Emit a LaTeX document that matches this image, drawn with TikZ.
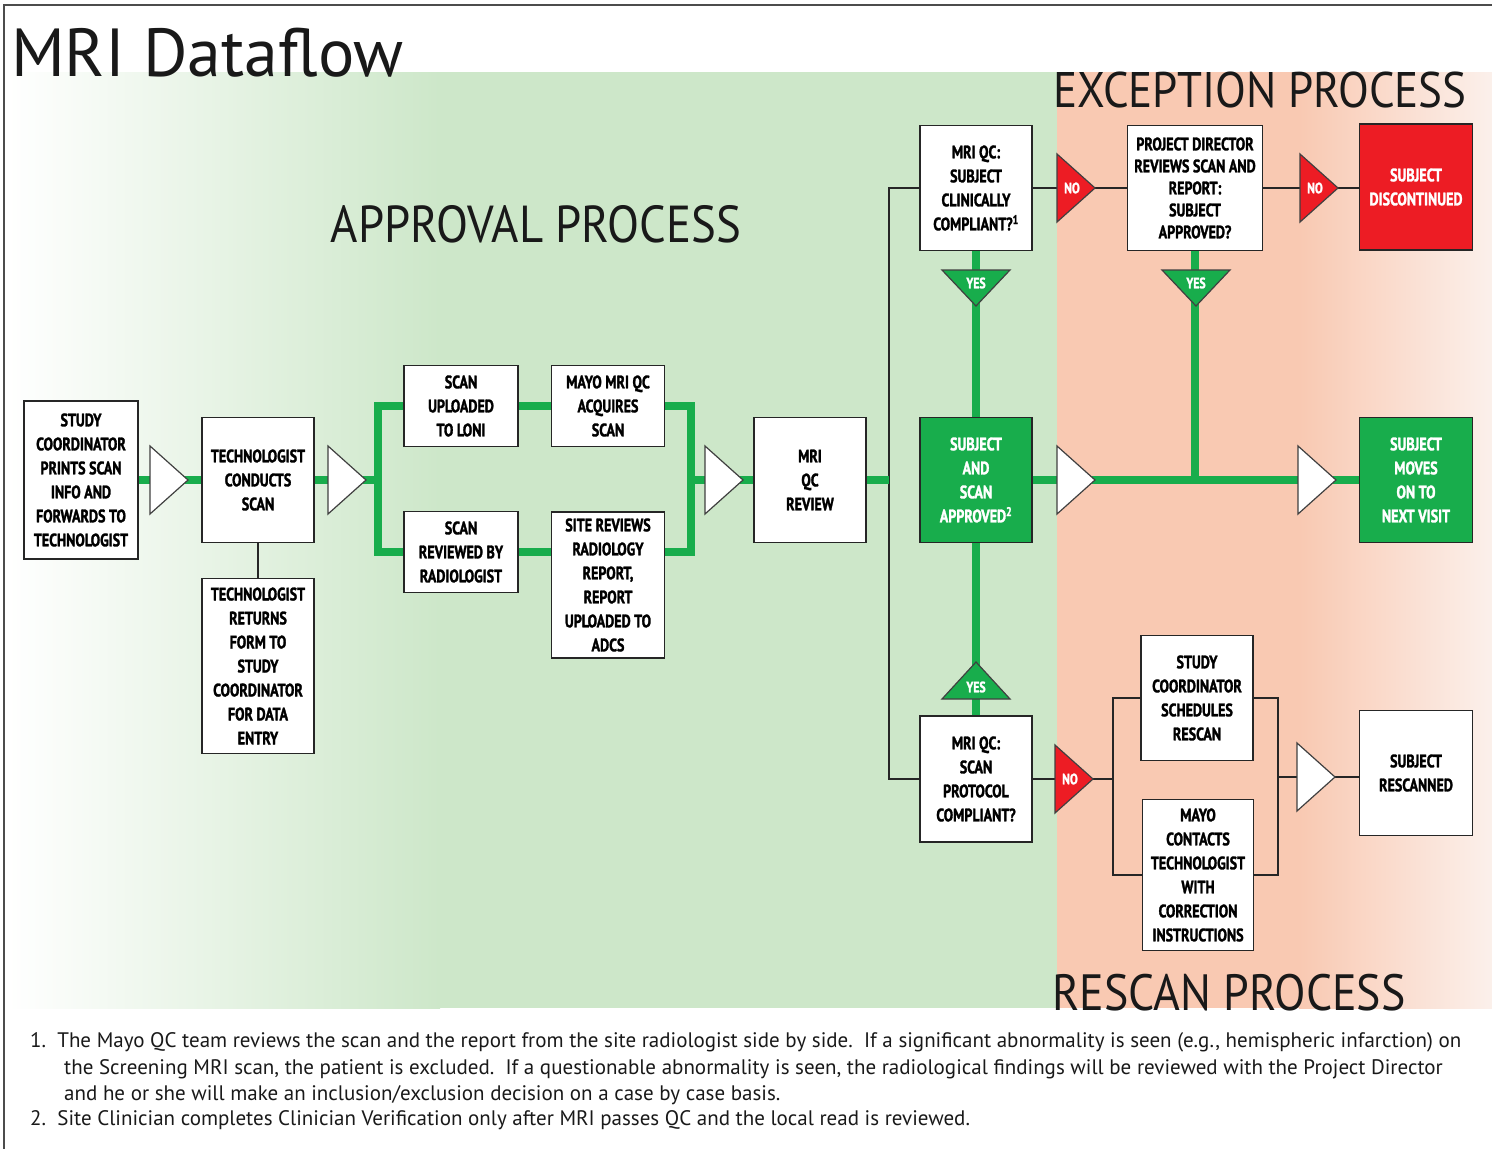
\documentclass[tikz,border=0pt]{standalone}
\usepackage{fontspec}
\setmainfont{PT Sans}
\newfontfamily\boxFont[FakeStretch=0.78, FakeBold=1.6]{PT Sans Bold}
\newfontfamily\headFont[FakeStretch=0.9]{PT Sans}
\newfontfamily\noteFont{PT Sans}
\usepackage{tikz}
\definecolor{flowGreen}{RGB}{24,173,76}
\definecolor{flowRed}{RGB}{237,28,36}
\definecolor{bgGreen}{RGB}{205,231,201}
\definecolor{bgOrange}{RGB}{249,201,178}
\definecolor{bgFade}{RGB}{251,240,235}
\tikzstyle{frameLine} = [color=black!70, line width=1.5pt]
\tikzstyle{flowBox} = [draw=black!85, line width=1.5pt, fill=white, text=black, align=center, inner sep=0pt, font=\boxFont\fontsize{18}{24}\selectfont]
\tikzstyle{greenBox} = [flowBox, fill=flowGreen, text=white]
\tikzstyle{redBox} = [flowBox, fill=flowRed, text=white]
\tikzstyle{greenLine} = [color=flowGreen, line width=8pt, line join=miter]
\tikzstyle{thinLine} = [color=black!85, line width=1.3pt]
\tikzstyle{triangleStyle} = [draw=black!75, line width=1.2pt, line join=miter]
\tikzstyle{triText} = [text=white, inner sep=0pt, font=\boxFont\fontsize{15}{15}\selectfont]
\tikzstyle{sectionTitle} = [anchor=base, inner sep=0pt, text=black!90, font=\headFont\fontsize{52}{52}\selectfont]
\tikzstyle{noteLine} = [anchor=base west, inner sep=0pt, text=black!90, font=\noteFont\fontsize{21}{21}\selectfont]
\tikzset{boxSize/.style 2 args={minimum width=#1pt, minimum height=#2pt}}
\newcommand{\rightTriangle}[5]{\filldraw [triangleStyle, fill=#3] (#1, #2) -- ++(-38, -34) -- ++(0, 68) -- cycle; \node [triText] (#4) at (#1 - 23, #2) {#5};}
\newcommand{\downTriangle}[5]{\filldraw [triangleStyle, fill=#3] (#1, #2) -- ++(-34, -36) -- ++(68, 0) -- cycle; \node [triText] (#4) at (#1, #2 - 23) {#5};}
\newcommand{\upTriangle}[5]{\filldraw [triangleStyle, fill=#3] (#1, #2) -- ++(-34, 37) -- ++(68, 0) -- cycle; \node [triText] (#4) at (#1, #2 + 25) {#5};}

\begin{document}
\begin{tikzpicture}[x = 1pt, y = -1pt]
  \useasboundingbox (0, 0) rectangle (1492, 1149);
  % background bands
  \shade [left color = white, right color = bgGreen] (8, 72) rectangle (440, 1008);
  \fill [bgGreen] (439, 72) rectangle (1057, 1008);
  \fill [bgOrange] (1057, 72) rectangle (1300, 1008);
  \shade [left color = bgOrange, right color = bgFade] (1299, 72) rectangle (1492, 1008);
  \draw [frameLine] (4, 1149) -- (4, 5) -- (1492, 5);

  % titles
  \node [anchor=base west, inner sep=0pt, text=black!90, font=\fontsize{68}{68}\selectfont] (dataflowTitle) at (11, 76) {MRI Dataflow};
  \node [sectionTitle] (approvalTitle) at (536, 242) {APPROVAL PROCESS};
  \node [sectionTitle, font=\headFont\fontsize{50}{50}\selectfont] (exceptionTitle) at (1260, 107) {EXCEPTION PROCESS};
  \node [sectionTitle, font=\headFont\fontsize{51}{51}\selectfont] (rescanTitle) at (1229, 1010) {RESCAN PROCESS};

  % boxes
  \node [flowBox, boxSize={114}{158}] (printsInfo) at (81, 480) {STUDY\\COORDINATOR\\PRINTS SCAN\\INFO AND\\FORWARDS TO\\TECHNOLOGIST};
  \node [flowBox, boxSize={112}{125}] (conductsScan) at (258, 480) {TECHNOLOGIST\\CONDUCTS\\SCAN};
  \node [flowBox, boxSize={112}{175}] (returnsForm) at (258, 666) {TECHNOLOGIST\\RETURNS\\FORM TO\\STUDY\\COORDINATOR\\FOR DATA\\ENTRY};
  \node [flowBox, boxSize={114}{81}] (uploadLoni) at (461, 406) {SCAN\\UPLOADED\\TO LONI};
  \node [flowBox, boxSize={113}{81}] (acquiresScan) at (608, 406) {MAYO MRI QC\\ACQUIRES\\SCAN};
  \node [flowBox, boxSize={114}{81}] (reviewedRad) at (461, 552) {SCAN\\REVIEWED BY\\RADIOLOGIST};
  \node [flowBox, boxSize={113}{146}] (siteReviews) at (608, 585) {SITE REVIEWS\\RADIOLOGY\\REPORT,\\REPORT\\UPLOADED TO\\ADCS};
  \node [flowBox, boxSize={112}{125}] (qcReview) at (810, 480) {MRI\\QC\\REVIEW};
  \node [flowBox, boxSize={112}{125}] (clinicalQc) at (976, 188) {MRI QC:\\SUBJECT\\CLINICALLY\\COMPLIANT?\textsuperscript{1}};
  \node [greenBox, boxSize={112}{125}] (approved) at (976, 480) {SUBJECT\\AND\\SCAN\\APPROVED\textsuperscript{2}};
  \node [flowBox, boxSize={112}{126}] (protocolQc) at (976, 779) {MRI QC:\\SCAN\\PROTOCOL\\COMPLIANT?};
  \node [flowBox, boxSize={135}{125}, font=\boxFont\fontsize{18}{22}\selectfont] (directorReview) at (1195, 188) {PROJECT DIRECTOR\\REVIEWS SCAN AND\\REPORT:\\SUBJECT\\APPROVED?};
  \node [redBox, boxSize={113}{126}] (discontinued) at (1416, 187) {SUBJECT\\DISCONTINUED};
  \node [greenBox, boxSize={113}{125}] (nextVisit) at (1416, 480) {SUBJECT\\MOVES\\ON TO\\NEXT VISIT};
  \node [flowBox, boxSize={112}{125}] (schedulesRescan) at (1197, 698) {STUDY\\COORDINATOR\\SCHEDULES\\RESCAN};
  \node [flowBox, boxSize={111}{151}] (contactsTech) at (1198, 875) {MAYO\\CONTACTS\\TECHNOLOGIST\\WITH\\CORRECTION\\INSTRUCTIONS};
  \node [flowBox, boxSize={113}{125}] (rescanned) at (1416, 773) {SUBJECT\\RESCANNED};

  % branch points
  \coordinate (splitScan) at (378, 480);
  \coordinate (joinScan) at (691, 480);
  \coordinate (splitQc) at (889, 480);
  \coordinate (splitRescan) at (1113, 779);
  \coordinate (joinRescan) at (1278, 777);

  % connectors
  \draw [thinLine] (conductsScan.south) -- (returnsForm.north);
  \draw [thinLine] (clinicalQc.west) -| (splitQc) |- (protocolQc.west);
  \draw [thinLine] (clinicalQc.east) -- (directorReview.west);
  \draw [thinLine] (directorReview.east) -- (discontinued.west |- directorReview.east);
  \draw [thinLine] (protocolQc.east) -- (splitRescan);
  \draw [thinLine] (schedulesRescan.west) -| (splitRescan) |- (contactsTech.west);
  \draw [thinLine] (schedulesRescan.east) -| (joinRescan) |- (contactsTech.east);
  \draw [thinLine] (joinRescan) -- (joinRescan -| rescanned.west);
  \draw [greenLine] (printsInfo.east) -- (conductsScan.west);
  \draw [greenLine] (conductsScan.east) -- (splitScan);
  \draw [greenLine] (uploadLoni.west) -| (splitScan) |- (reviewedRad.west);
  \draw [greenLine] (uploadLoni.east) -- (acquiresScan.west);
  \draw [greenLine] (reviewedRad.east) -- (reviewedRad.east -| siteReviews.west);
  \draw [greenLine] (acquiresScan.east) -| (joinScan) |- (siteReviews.east |- reviewedRad.east);
  \draw [greenLine] (joinScan) -- (qcReview.west);
  \draw [greenLine] (qcReview.east) -- (splitQc);
  \draw [greenLine] (clinicalQc.south) -- (approved.north);
  \draw [greenLine] (approved.south) -- (protocolQc.north);
  \draw [greenLine] (approved.east) -- (nextVisit.west);
  \draw [greenLine] (directorReview.south) -- (directorReview.south |- approved.east);

  % arrow heads
  \rightTriangle{188}{480}{white}{toConducts}{}
  \rightTriangle{366}{480}{white}{toSplit}{}
  \rightTriangle{743}{480}{white}{toReview}{}
  \rightTriangle{1095}{480}{white}{toOutcome}{}
  \rightTriangle{1336}{480}{white}{toNextVisit}{}
  \rightTriangle{1335}{777}{white}{toRescanned}{}
  \rightTriangle{1095}{188}{flowRed}{noClinical}{NO}
  \rightTriangle{1338}{188}{flowRed}{noDirector}{NO}
  \rightTriangle{1093}{779}{flowRed}{noProtocol}{NO}
  \downTriangle{976}{306}{flowGreen}{yesClinical}{YES}
  \downTriangle{1196}{306}{flowGreen}{yesDirector}{YES}
  \upTriangle{976}{662}{flowGreen}{yesProtocol}{YES}

  % footnotes
  \node [noteLine] (noteOne) at (30, 1047) {1.\ \ The Mayo QC team reviews the scan and the report from the site radiologist side by side.\ \ If a significant abnormality is seen (e.g., hemispheric infarction) on};
  \node [noteLine] (noteOneB) at (64, 1074) {the Screening MRI scan, the patient is excluded.\ \ If a questionable abnormality is seen, the radiological findings will be reviewed with the Project Director};
  \node [noteLine] (noteOneC) at (64, 1100) {and he or she will make an inclusion/exclusion decision on a case by case basis.};
  \node [noteLine] (noteTwo) at (30, 1125) {2.\ \ Site Clinician completes Clinician Verification only after MRI passes QC and the local read is reviewed.};
\end{tikzpicture}
\end{document}
